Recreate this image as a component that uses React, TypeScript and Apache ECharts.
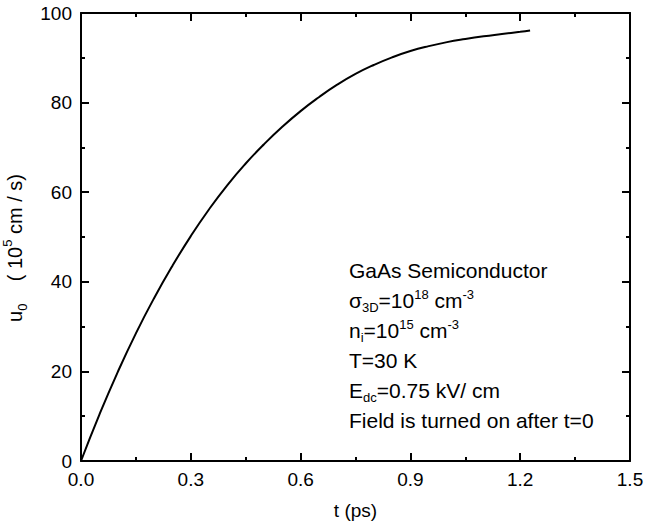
import React, { useEffect, useRef } from "react";
import * as echarts from "echarts";

const timePs = [0, 0.05, 0.1, 0.15, 0.2, 0.25, 0.3, 0.35, 0.4, 0.45, 0.5, 0.55, 0.6, 0.65, 0.7, 0.75, 0.8, 0.85, 0.9, 0.95, 1.0, 1.05, 1.1, 1.15, 1.2, 1.227];
const velocity = [0, 10.3, 19.8, 28.5, 36.4, 43.6, 50.2, 56.2, 61.6, 66.4, 70.7, 74.6, 78.1, 81.2, 84.0, 86.4, 88.4, 90.1, 91.5, 92.6, 93.5, 94.2, 94.8, 95.3, 95.8, 96.1];
const xTicks = { min: 0, max: 1.5, interval: 0.3 };
const yTicks = { min: 0, max: 100, interval: 20 };
const annotationLines = [
  "{n|GaAs Semiconductor}",
  "{n|σ}{sub|3D}{n|=10}{sup|18}{n| cm}{sup|-3}",
  "{n|n}{sub|i}{n|=10}{sup|15}{n| cm}{sup|-3}",
  "{n|T=30 K}",
  "{n|E}{sub|dc}{n|=0.75 kV/ cm}",
  "{n|Field is turned on after t=0}",
];

const FONT = "'Liberation Sans', Arial, Helvetica, sans-serif";

export default function App() {
  const ref = useRef<HTMLDivElement>(null);
  useEffect(() => {
    if (!ref.current) return;
    const chart = echarts.init(ref.current, null, { renderer: "svg" });
    const axisCommon = {
      axisLine: { show: true, onZero: false, lineStyle: { color: "#000", width: 2 } },
      axisTick: { show: true, inside: true, length: 8, lineStyle: { color: "#000", width: 2 } },
      minorTick: { show: true, splitNumber: 2, length: 4, lineStyle: { color: "#000", width: 2 } },
      splitLine: { show: false },
      minorSplitLine: { show: false },
    };
    const nameRich = {
      n: { fontSize: 20, fontFamily: FONT, color: "#000" },
      sup: { fontSize: 13, fontFamily: FONT, color: "#000", verticalAlign: "top" as const },
      sub: { fontSize: 13, fontFamily: FONT, color: "#000", verticalAlign: "bottom" as const },
    };
    chart.setOption({
      animation: false,
      backgroundColor: "#fff",
      grid: { left: 81, top: 13, right: 15, bottom: 66, containLabel: false, outerBoundsMode: "none" },
      xAxis: [
        {
          type: "value",
          min: xTicks.min,
          max: xTicks.max,
          interval: xTicks.interval,
          ...axisCommon,
          axisLabel: {
            color: "#000",
            fontSize: 19,
            fontFamily: FONT,
            margin: 9,
            formatter: (v: number) => v.toFixed(1),
          },
          name: "t (ps)",
          nameLocation: "middle",
          nameGap: 40,
          nameTextStyle: { color: "#000", fontSize: 19, fontFamily: FONT },
        },
        {
          type: "value",
          position: "top",
          min: xTicks.min,
          max: xTicks.max,
          interval: xTicks.interval,
          ...axisCommon,
          axisLabel: { show: false },
        },
      ],
      yAxis: [
        {
          type: "value",
          min: yTicks.min,
          max: yTicks.max,
          interval: yTicks.interval,
          ...axisCommon,
          axisLabel: { color: "#000", fontSize: 19, fontFamily: FONT, margin: 9 },
          name: "{n|u}{sub|0}{n|    ( 10}{sup|5}{n| cm / s)}",
          nameLocation: "middle",
          nameGap: 47,
          nameRotate: 90,
          nameTextStyle: {
            color: "#000",
            fontSize: 20,
            fontFamily: FONT,
            lineHeight: 28,
            padding: [0, 22, 0, 0],
            rich: nameRich,
          },
        },
        {
          type: "value",
          position: "right",
          min: yTicks.min,
          max: yTicks.max,
          interval: yTicks.interval,
          ...axisCommon,
          axisLabel: { show: false },
        },
      ],
      series: [
        {
          type: "line",
          data: timePs.map((t, i) => [t, velocity[i]]),
          smooth: true,
          showSymbol: false,
          symbol: "none",
          lineStyle: { color: "#000", width: 2 },
        },
      ],
      graphic: [
        {
          type: "text",
          left: 349,
          top: 255,
          style: {
            text: annotationLines.join("\n"),
            fill: "#000",
            fontSize: 21,
            fontFamily: FONT,
            lineHeight: 30,
            rich: {
              n: { fontSize: 21, fontFamily: FONT, fill: "#000", lineHeight: 30 },
              sup: { fontSize: 13, fontFamily: FONT, fill: "#000", verticalAlign: "top", lineHeight: 30, padding: [3, 0, 0, 0] },
              sub: { fontSize: 13, fontFamily: FONT, fill: "#000", verticalAlign: "bottom", lineHeight: 30, padding: [0, 0, 1, 0] },
            },
          },
        },
      ],
    });
    return () => chart.dispose();
  }, []);
  return (
    <div
      ref={ref}
      style={{ position: "absolute", left: 0, top: 0, width: 645, height: 527 }}
    />
  );
}
